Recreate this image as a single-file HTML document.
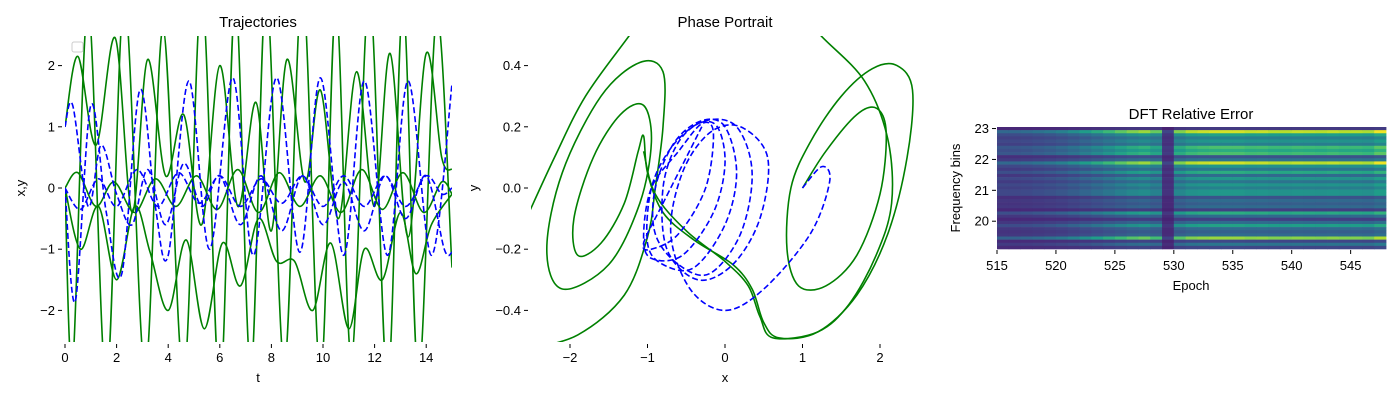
<!DOCTYPE html>
<html><head><meta charset="utf-8"><style>
body{margin:0;background:#fff;font-family:"Liberation Sans",sans-serif;}
svg text{font-family:"Liberation Sans",sans-serif;fill:#000;}
</style></head><body>
<svg id="fig" width="1400" height="400" viewBox="0 0 1400 400" xmlns="http://www.w3.org/2000/svg">
<defs>
<clipPath id="c1"><rect x="65" y="36" width="387" height="306"/></clipPath>
<clipPath id="c2"><rect x="531" y="36" width="387" height="306"/></clipPath>
</defs>
<g id="p1"></g>
<g id="p2"></g>
<g id="p3"></g>
</svg>
<script>
// ---- Trajectories data (extrema points) ----
const g1T=[0,0.3,0.9,1.6,2.3,3.1,3.8,4.6,5.3,6.0,6.6,7.2,7.8,8.5,9.2,9.9,10.5,11.1,11.8,12.5,13.1,13.7,14.4,15];
const g1V=[0,-2.9,3.0,-3.2,3.1,-3.0,2.6,-3.1,3.2,-3.3,3.1,-3.0,3.2,-2.9,3.3,-3.1,3.0,-2.8,3.2,-3.2,3.0,-3.1,2.8,-1.3];
const g2T=[0,0.5,1.2,1.95,2.6,3.2,3.9,4.6,5.3,6.0,6.7,7.4,8.0,8.6,9.3,9.9,10.6,11.3,12.0,12.6,13.3,14.0,14.6,15];
const g2V=[1.0,2.15,0.7,2.45,-0.4,2.1,0.2,1.2,-0.6,2.0,-0.3,1.4,-0.7,2.1,0.1,1.6,-0.5,1.9,-0.3,2.2,-0.8,2.2,0.5,0.3];
const g3T=[0,0.6,1.3,2.0,2.7,3.3,4.0,4.7,5.4,6.1,6.8,7.5,8.2,8.9,9.6,10.3,11.0,11.6,12.3,13.0,13.6,14.2,15];
const g3V=[0,-1.0,-0.3,-1.5,-0.3,-1.05,-2.0,-0.85,-2.3,-0.9,-1.6,-0.5,-1.2,-1.2,-2.0,-0.9,-2.3,-1.0,-1.5,-0.4,-1.4,-0.6,-0.1];
const g4T=[0,0.5,1.2,1.9,2.7,3.5,4.3,5.1,5.9,6.7,7.5,8.3,9.1,9.9,10.7,11.5,12.3,13.1,13.9,14.6,15];
const g4V=[0,0.25,-0.3,0.1,-0.4,0.15,-0.3,0.2,-0.35,0.3,-0.4,0.25,-0.3,0.2,-0.4,0.3,-0.35,0.25,-0.4,0.1,-0.1];
const b1T=[0,0.4,1.0,1.6,2.2,2.9,3.5,4.0,4.8,5.6,6.5,7.3,8.2,9.1,9.9,10.8,11.6,12.5,13.3,14.2,15];
const b1V=[0,-1.85,1.35,-0.4,-1.4,1.6,-0.3,-1.1,1.75,-1.0,1.8,-1.1,1.8,-1.05,1.8,-1.1,1.75,-1.1,1.75,-1.1,1.7];
const b2T=[0,0.3,0.9,1.4,2.0,2.6,3.2,3.9,4.6,5.3,6.0,6.8,7.6,8.4,9.2,10.0,10.8,11.6,12.4,13.2,14.0,14.7,15];
const b2V=[1.0,1.35,-0.3,0.7,-0.1,-0.6,0.3,-0.6,0.4,-0.3,0.2,-0.6,0.2,-0.7,0.2,-0.6,0.1,-0.7,0.2,-0.5,0.2,-1.0,-1.05];
const b3T=[0,0.6,1.3,2.0,2.8,3.6,4.4,5.2,6.0,6.8,7.6,8.4,9.2,10.0,10.8,11.6,12.4,13.2,14.0,14.6,15];
const b3V=[0,-0.35,0.15,-0.3,0.3,-0.3,0.25,-0.25,0.2,-0.3,0.15,-0.25,0.2,-0.3,0.2,-0.3,0.2,-0.3,0.2,-0.1,0];
const t1Ticks=[0,2,4,6,8,10,12,14];
const y1Ticks=[-2,-1,0,1,2];
// ---- Phase portrait data ----
const gAx=[1.0,1.3,1.7,1.96,2.08,2.0,1.7,1.3,0.95,0.8,0.85,1.1,1.5,1.9,2.22,2.42,2.35,2.1,1.7,1.2,0.7,0.5,0.35,0.1,-0.4,-0.8,-1.0,-1.05,-1.12,-1.3,-1.6,-1.9,-1.95,-1.7,-1.35,-1.05,-0.95,-1.1,-1.5,-2.1,-2.3,-2.1,-1.6,-1.1,-0.8,-0.8,-0.9,-1.0,-1.3,-1.9,-2.6];
const gAy=[0.0,0.12,0.24,0.26,0.18,-0.02,-0.22,-0.32,-0.32,-0.2,0.0,0.15,0.3,0.39,0.4,0.32,0.1,-0.15,-0.35,-0.47,-0.49,-0.44,-0.33,-0.25,-0.17,-0.08,0.05,0.17,0.12,-0.05,-0.18,-0.22,-0.1,0.1,0.24,0.27,0.15,-0.05,-0.25,-0.33,-0.2,0.05,0.3,0.41,0.38,0.2,0.0,-0.16,-0.35,-0.48,-0.53];
const gBx=[-2.6,-2.2,-1.8,-1.23,-0.9];
const gBy=[-0.12,0.1,0.3,0.5,0.62];
const gCx=[0.9,1.23,1.8,2.1,2.15,1.95,1.6,1.2,0.62,0.45,0.3,0.0,-0.5,-0.9,-1.05];
const gCy=[0.6,0.5,0.35,0.16,-0.05,-0.22,-0.38,-0.47,-0.49,-0.42,-0.32,-0.24,-0.14,-0.02,0.12];
const bx=[1.0,1.25,1.35,1.1,0.5,0.0,-0.45,-0.7,-0.55,-0.2,0.2,0.55,0.45,0.1,-0.35,-0.75,-0.8,-0.6,-0.25,0.15,0.35,0.2,-0.2,-0.6,-0.9,-0.9,-0.65,-0.3,0.0,0.15,0.0,-0.4,-0.8,-1.0,-0.95,-0.7,-0.35,-0.1,0.0,-0.15,-0.55,-0.95,-1.05,-0.95,-0.6,-0.3,-0.15,-0.25,-0.6,-0.95,-1.05,-0.8,-0.5,-0.3];
const by=[0.0,0.07,0.02,-0.15,-0.33,-0.4,-0.33,-0.15,0.05,0.18,0.2,0.1,-0.1,-0.25,-0.3,-0.2,0.0,0.15,0.22,0.2,0.05,-0.15,-0.28,-0.25,-0.15,0.0,0.15,0.22,0.2,0.05,-0.12,-0.26,-0.25,-0.18,0.0,0.13,0.21,0.2,0.08,-0.08,-0.22,-0.23,-0.16,0.0,0.12,0.21,0.18,0.0,-0.15,-0.2,-0.18,-0.05,0.1,0.2];
const x2Ticks=[-2,-1,0,1,2];
const y2Ticks=[-0.4,-0.2,0.0,0.2,0.4];
// ---- Heatmap data ----
const epochs=[515,516,517,518,519,520,521,522,523,524,525,526,527,528,529,530,531,532,533,534,535,536,537,538,539,540,541,542,543,544,545,546,547];
const epochLevel=[0.3,0.3,0.32,0.35,0.38,0.42,0.48,0.55,0.62,0.7,0.78,0.85,0.9,0.8,0.15,0.85,0.95,0.98,1,1,1,0.97,0.98,0.95,0.95,0.97,0.96,0.95,0.97,0.95,0.95,0.93,1.05];
const binLevel=[0.1,0.95,0.55,0.4,0.5,0.4,0.7,0.6,0.7,0.2,0.35,0.95,0.5,0.35,0.6,0.3,0.5,0.35,0.5,0.4,0.5,0.5,0.2,0.3,0.25,0.3,0.12,0.6,0.3,0.12,0.3,0.55,0.3,0.25,0.3,0.85,0.15,0.35,0.15];
const x3Ticks=[515,520,525,530,535,540,545];
const y3Ticks=[20,21,22,23];

const NS='http://www.w3.org/2000/svg';
function mk(parent,tag,attrs,text){const e=document.createElementNS(NS,tag);for(const k in attrs)e.setAttribute(k,attrs[k]);if(text!==undefined)e.textContent=text;parent.appendChild(e);return e;}
function smooth(pts){let d='M'+pts[0][0].toFixed(1)+','+pts[0][1].toFixed(1);
 for(let i=0;i<pts.length-1;i++){const p0=pts[Math.max(0,i-1)],p1=pts[i],p2=pts[i+1],p3=pts[Math.min(pts.length-1,i+2)];
  const c1=[p1[0]+(p2[0]-p0[0])/6,p1[1]+(p2[1]-p0[1])/6],c2=[p2[0]-(p3[0]-p1[0])/6,p2[1]-(p3[1]-p1[1])/6];
  d+='C'+c1[0].toFixed(1)+','+c1[1].toFixed(1)+' '+c2[0].toFixed(1)+','+c2[1].toFixed(1)+' '+p2[0].toFixed(1)+','+p2[1].toFixed(1);}
 return d;}

// Panel 1
const p1=document.getElementById('p1');
const sx1=t=>65+t*(387/15), sy1=v=>188-v*61.2;
mk(p1,'text',{x:258,y:27,'text-anchor':'middle','font-size':15,},'Trajectories');
const cg1=mk(p1,'g',{'clip-path':'url(#c1)'});
[[g1T,g1V,'green'],[g2T,g2V,'green'],[g3T,g3V,'green'],[g4T,g4V,'green'],[b1T,b1V,'blue'],[b2T,b2V,'blue'],[b3T,b3V,'blue']].forEach((s,i)=>{
 const pts=s[0].map((t,j)=>[sx1(t),sy1(s[1][j])]);
 const path=mk(cg1,'path',{d:smooth(pts),fill:'none',stroke:s[2],'stroke-width':1.6,'stroke-dasharray':s[2]==='blue'?'6,3':'none'});
 
 
});
t1Ticks.forEach(t=>{mk(p1,'line',{x1:sx1(t),x2:sx1(t),y1:344,y2:348,stroke:'#000'});mk(p1,'text',{x:sx1(t),y:362,'text-anchor':'middle','font-size':13},t);});
y1Ticks.forEach(v=>{mk(p1,'line',{x1:58,x2:62,y1:sy1(v),y2:sy1(v),stroke:'#000'});mk(p1,'text',{x:55,y:sy1(v)+4.5,'text-anchor':'end','font-size':13},v<0?'\u2212'+(-v):v);});
mk(p1,'text',{x:258,y:382,'text-anchor':'middle','font-size':13,},'t');
mk(p1,'text',{x:25,y:188,'text-anchor':'middle','font-size':13,transform:'rotate(-90 25 188)',},'x,y');
mk(p1,'rect',{x:72,y:42,width:11,height:10,rx:2,fill:'#fff',stroke:'#ccc',});

// Panel 2
const p2=document.getElementById('p2');
const sx2=x=>725+x*77.5, sy2=y=>188-y*306;
mk(p2,'text',{x:725,y:27,'text-anchor':'middle','font-size':15,},'Phase Portrait');
const cg2=mk(p2,'g',{'clip-path':'url(#c2)'});
[[gAx,gAy],[gBx,gBy],[gCx,gCy]].forEach(s=>{
 const gp=mk(cg2,'path',{d:smooth(s[0].map((x,i)=>[sx2(x),sy2(s[1][i])])),fill:'none',stroke:'green','stroke-width':1.6});
 
 
});
const bp=mk(cg2,'path',{d:smooth(bx.map((x,i)=>[sx2(x),sy2(by[i])])),fill:'none',stroke:'blue','stroke-width':1.6,'stroke-dasharray':'6,3'});


x2Ticks.forEach(t=>{mk(p2,'line',{x1:sx2(t),x2:sx2(t),y1:344,y2:348,stroke:'#000'});mk(p2,'text',{x:sx2(t),y:362,'text-anchor':'middle','font-size':13},t<0?'\u2212'+(-t):t);});
y2Ticks.forEach(v=>{mk(p2,'line',{x1:524,x2:528,y1:sy2(v),y2:sy2(v),stroke:'#000'});mk(p2,'text',{x:521,y:sy2(v)+4.5,'text-anchor':'end','font-size':13},(v<0?'\u2212':'')+Math.abs(v).toFixed(1));});
mk(p2,'text',{x:725,y:382,'text-anchor':'middle','font-size':13,},'x');
mk(p2,'text',{x:478,y:188,'text-anchor':'middle','font-size':13,transform:'rotate(-90 478 188)',},'y');

// Panel 3 heatmap
const p3=document.getElementById('p3');
const viridis=[[68,1,84],[72,40,120],[62,74,137],[49,104,142],[38,130,142],[31,158,137],[53,183,121],[109,205,89],[180,222,44],[253,231,37]];
function vcol(v){v=Math.max(0,Math.min(1,v))*(viridis.length-1);const i=Math.min(Math.floor(v),viridis.length-2),f=v-i;const a=viridis[i],b=viridis[i+1];return 'rgb('+a.map((c,k)=>Math.round(c+(b[k]-c)*f)).join(',')+')';}
const cw=389/epochs.length, rh=122/binLevel.length;
const sx3=e=>997+(e-515)*cw;
const sy3=b=>249-(b-19.1)*(122/3.95);
epochs.forEach((e,ci)=>{binLevel.forEach((r,ri)=>{
 const cell=mk(p3,'rect',{x:sx3(e).toFixed(2),y:(127+ri*rh).toFixed(2),width:(cw+0.4).toFixed(2),height:(rh+0.3).toFixed(2),fill:vcol(0.08+r*epochLevel[ci]*0.9)});
 
 
});});
mk(p3,'text',{x:1191,y:119,'text-anchor':'middle','font-size':15,},'DFT Relative Error');
x3Ticks.forEach(t=>{mk(p3,'line',{x1:sx3(t),x2:sx3(t),y1:250,y2:254,stroke:'#000'});mk(p3,'text',{x:sx3(t),y:270,'text-anchor':'middle','font-size':13},t);});
y3Ticks.forEach(v=>{mk(p3,'line',{x1:992,x2:996,y1:sy3(v),y2:sy3(v),stroke:'#000'});mk(p3,'text',{x:989,y:sy3(v)+4.5,'text-anchor':'end','font-size':13},v);});
mk(p3,'text',{x:1191,y:290,'text-anchor':'middle','font-size':13,},'Epoch');
mk(p3,'text',{x:960,y:188,'text-anchor':'middle','font-size':13,transform:'rotate(-90 960 188)',},'Frequency bins');
</script>
</body></html>
